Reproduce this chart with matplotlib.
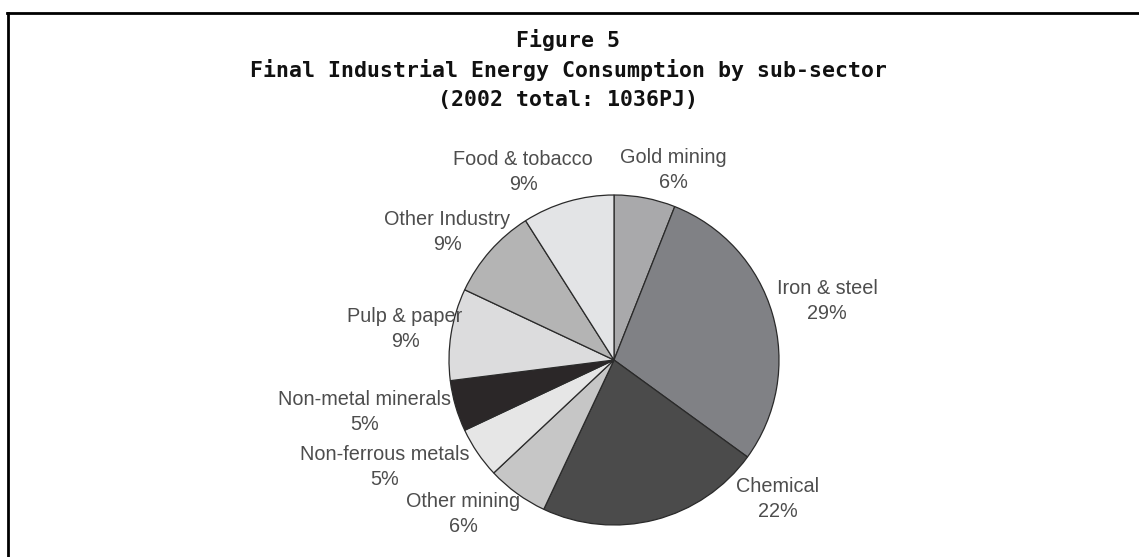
import matplotlib.pyplot as plt
from matplotlib.lines import Line2D

# Final industrial energy consumption by sub-sector, 2002 (% of 1036 PJ)
sectors = ['Gold mining', 'Iron & steel', 'Chemical', 'Other mining',
           'Non-ferrous metals', 'Non-metal minerals', 'Pulp & paper',
           'Other Industry', 'Food & tobacco']
shares = [6, 29, 22, 6, 5, 5, 9, 9, 9]
colors = ['#a9a9ab', '#808185', '#4b4b4b', '#c6c6c6', '#e6e6e6',
          '#2b2728', '#dcdcdd', '#b4b4b4', '#e3e4e6']

# label anchor points in pixels from the top-left corner
label_pos = [(673, 170), (827, 301), (778, 499), (463, 514), (385, 467),
             (365, 412), (405, 329), (447, 232), (523, 172)]

W, H = 1139, 557
fig = plt.figure(figsize=(W / 100, H / 100), dpi=100)
ax = fig.add_axes([0, 0, 1, 1])

def flip(y):
    return H - y

ax.pie(shares, colors=colors, startangle=90, counterclock=False,
       center=(614, flip(360)), radius=165, frame=True,
       wedgeprops=dict(edgecolor='#2a2a2a', linewidth=0.9))
ax.set_xlim(0, W)
ax.set_ylim(0, H)
ax.set_aspect('equal')
ax.axis('off')

for name, val, (x, y) in zip(sectors, shares, label_pos):
    ax.text(x, flip(y), f'{name}\n{val}%', ha='center', va='center',
            fontsize=14.3, color='#4d4d4d', family='Liberation Sans',
            linespacing=1.4)

# titles
titles = ['Figure 5', 'Final Industrial Energy Consumption by sub-sector',
          '(2002 total: 1036PJ)']
for i, t in enumerate(titles):
    ax.text(568, flip(40 + 30 * i), t, ha='center', va='center',
            fontsize=15.5, fontweight='bold', family='DejaVu Sans Mono',
            color='#111111')

# frame: top and left rules
ax.add_line(Line2D([7, W], [flip(12.5), flip(12.5)], color='black', lw=2))
ax.add_line(Line2D([8, 8], [flip(12.5), 0], color='black', lw=2))

fig.savefig('out.png', dpi=100)
